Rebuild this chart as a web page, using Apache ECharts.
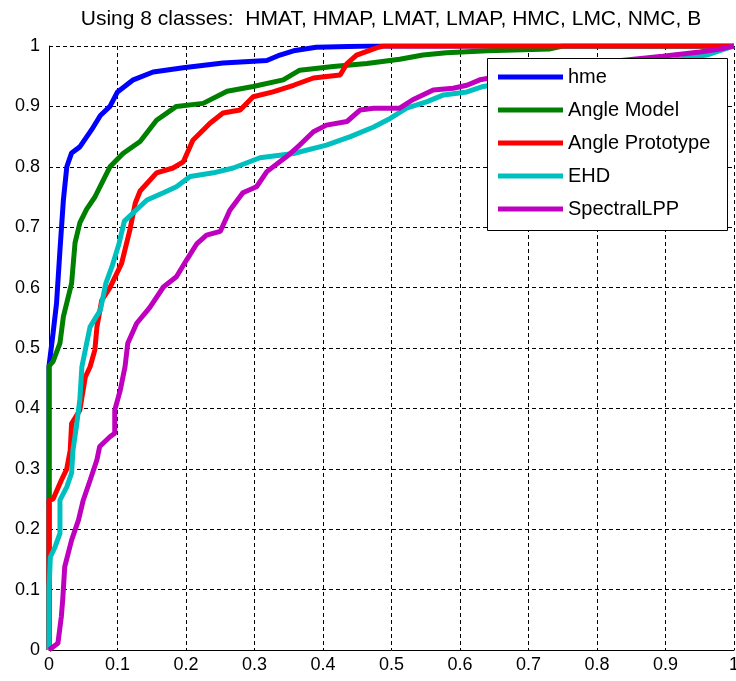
<!DOCTYPE html>
<html>
<head>
<meta charset="utf-8">
<script src="https://cdn.jsdelivr.net/npm/echarts@6/dist/echarts.min.js"></script>
<style>html,body{margin:0;padding:0;background:#fff;}#c{width:736px;height:681px;}</style>
</head>
<body>
<div id="c"></div>
<script>
const titleText = 'Using 8 classes:  HMAT, HMAP, LMAT, LMAP, HMC, LMC, NMC, B';
const seriesNames = ['hme', 'Angle Model', 'Angle Prototype', 'EHD', 'SpectralLPP'];
const seriesColors = ['#0000ff', '#008000', '#ff0000', '#00bfbf', '#bf00bf'];

const hme = [[0,0],[0,0.47],[0.006,0.525],[0.011,0.574],[0.016,0.662],[0.021,0.745],[0.026,0.8],[0.033,0.823],[0.045,0.833],[0.062,0.861],[0.075,0.885],[0.089,0.9],[0.1,0.924],[0.123,0.944],[0.152,0.957],[0.196,0.964],[0.254,0.972],[0.318,0.976],[0.337,0.985],[0.357,0.992],[0.39,0.998],[0.469,1],[1,1]];

const angleModel = [[0,0],[0,0.47],[0.006,0.478],[0.016,0.508],[0.021,0.552],[0.033,0.607],[0.038,0.674],[0.045,0.707],[0.055,0.73],[0.067,0.75],[0.078,0.775],[0.089,0.8],[0.108,0.822],[0.133,0.842],[0.157,0.877],[0.186,0.9],[0.225,0.905],[0.26,0.925],[0.298,0.933],[0.342,0.944],[0.366,0.96],[0.415,0.966],[0.464,0.971],[0.512,0.978],[0.546,0.985],[0.58,0.989],[0.64,0.992],[0.73,0.995],[0.75,1],[1,1]];

const angleProto = [[0,0],[0,0.248],[0.006,0.25],[0.018,0.281],[0.026,0.3],[0.031,0.331],[0.033,0.375],[0.045,0.397],[0.053,0.452],[0.06,0.469],[0.067,0.497],[0.07,0.535],[0.077,0.579],[0.089,0.6],[0.106,0.64],[0.118,0.695],[0.126,0.74],[0.133,0.76],[0.157,0.79],[0.181,0.798],[0.196,0.808],[0.21,0.844],[0.22,0.855],[0.235,0.872],[0.254,0.889],[0.279,0.894],[0.298,0.916],[0.327,0.924],[0.357,0.935],[0.386,0.947],[0.425,0.952],[0.435,0.971],[0.449,0.985],[0.478,0.997],[0.488,1],[1,1]];

const ehd = [[0,0],[0,0.1],[0.002,0.154],[0.009,0.171],[0.016,0.193],[0.016,0.248],[0.026,0.27],[0.033,0.293],[0.035,0.331],[0.04,0.37],[0.045,0.414],[0.048,0.469],[0.055,0.508],[0.06,0.535],[0.075,0.563],[0.083,0.607],[0.092,0.635],[0.102,0.672],[0.11,0.71],[0.125,0.726],[0.143,0.745],[0.167,0.757],[0.186,0.767],[0.206,0.784],[0.24,0.79],[0.269,0.798],[0.308,0.815],[0.357,0.822],[0.405,0.836],[0.44,0.85],[0.474,0.866],[0.498,0.88],[0.522,0.897],[0.552,0.908],[0.576,0.919],[0.61,0.924],[0.634,0.933],[0.7,0.945],[0.8,0.96],[0.9,0.975],[0.96,0.985],[1,1]];

const spectral = [[0,0],[0.013,0.011],[0.018,0.055],[0.02,0.083],[0.023,0.138],[0.028,0.16],[0.033,0.182],[0.043,0.215],[0.05,0.248],[0.06,0.281],[0.07,0.315],[0.074,0.337],[0.089,0.353],[0.096,0.359],[0.096,0.397],[0.104,0.43],[0.111,0.469],[0.115,0.508],[0.128,0.541],[0.147,0.567],[0.167,0.601],[0.186,0.618],[0.201,0.646],[0.216,0.673],[0.23,0.687],[0.25,0.693],[0.264,0.728],[0.283,0.757],[0.303,0.767],[0.318,0.792],[0.347,0.817],[0.366,0.836],[0.386,0.858],[0.405,0.869],[0.435,0.875],[0.454,0.894],[0.474,0.897],[0.512,0.897],[0.531,0.911],[0.561,0.927],[0.59,0.93],[0.61,0.935],[0.629,0.944],[0.7,0.958],[0.8,0.972],[0.896,0.983],[0.95,0.99],[0.984,0.996],[1,1]];

const seriesData = [hme, angleModel, angleProto, ehd, spectral];
const xTicks = [0,0.1,0.2,0.3,0.4,0.5,0.6,0.7,0.8,0.9,1];
const yTicks = [0,0.1,0.2,0.3,0.4,0.5,0.6,0.7,0.8,0.9,1];

const FONT = '"Liberation Sans", Arial, sans-serif';
const chart = echarts.init(document.getElementById('c'), null, {renderer: 'canvas'});
const fmt = v => String(Math.round(v * 10) / 10);
const dash = {color: '#000', width: 1, type: [4, 3]};

chart.setOption({
  animation: false,
  backgroundColor: '#fff',
  title: {
    text: titleText, left: 386, top: 4, textAlign: 'center',
    textStyle: {fontFamily: FONT, fontSize: 21, fontWeight: 'normal', color: '#000'}
  },
  grid: {left: 49, right: 2, top: 46, bottom: 31, containLabel: false, outerBoundsMode: 'none'},
  xAxis: {
    type: 'value', min: xTicks[0], max: xTicks[xTicks.length - 1], interval: 0.1,
    axisLine: {show: true, lineStyle: {color: '#000', width: 1}},
    axisTick: {show: false},
    splitLine: {show: true, lineStyle: dash},
    axisLabel: {formatter: fmt, color: '#000', fontFamily: FONT, fontSize: 18, margin: 6, hideOverlap: false}
  },
  yAxis: {
    type: 'value', min: yTicks[0], max: yTicks[yTicks.length - 1], interval: 0.1,
    axisLine: {show: true, lineStyle: {color: '#000', width: 1}},
    axisTick: {show: false},
    splitLine: {show: true, lineStyle: dash},
    axisLabel: {formatter: fmt, color: '#000', fontFamily: FONT, fontSize: 18, margin: 9}
  },
  legend: {
    orient: 'vertical', left: 498, top: 67, z: 60,
    padding: 0, itemGap: 13, itemWidth: 65, itemHeight: 5, icon: 'rect',
    data: seriesNames,
    textStyle: {fontFamily: FONT, fontSize: 20, color: '#000'}
  },
  graphic: [{
    type: 'rect', z: 50, left: 487, top: 58,
    shape: {width: 240, height: 172},
    style: {fill: '#fff', stroke: '#000', lineWidth: 1}
  }],
  series: seriesNames.map((n, i) => ({
    name: n, type: 'line', data: seriesData[i], showSymbol: false, symbol: 'none',
    color: seriesColors[i], lineStyle: {width: 5, color: seriesColors[i]},
    clip: true, z: 2 + i
  }))
});
</script>
</body>
</html>
